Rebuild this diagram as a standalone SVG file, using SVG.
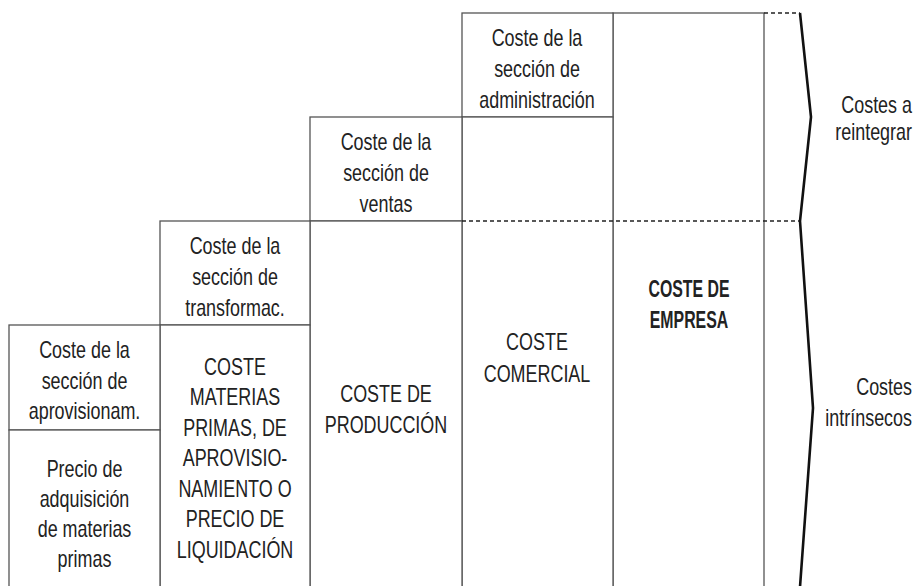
<svg xmlns="http://www.w3.org/2000/svg" width="918" height="586" viewBox="0 0 918 586">
<style>
.box{fill:#fff;stroke:#555;stroke-width:1.3}
.t{font-family:"Liberation Sans",Arial,sans-serif;font-size:23px;fill:#222;text-anchor:middle}
.b{font-weight:bold}
.r{text-anchor:end}
.dash{stroke:#222;stroke-width:1.3;stroke-dasharray:4 3;fill:none}
.brace{stroke:#111;stroke-width:2.6;fill:none;stroke-linejoin:miter}
</style>
<rect width="918" height="586" fill="#fff"/>
<g id="n-empresa"><rect class="box" x="613" y="13" width="151" height="575"/>
<text class="t b" transform="translate(689 0) scale(0.69 1)"><tspan x="0" y="297">COSTE DE</tspan><tspan x="0" y="328">EMPRESA</tspan></text></g>
<g id="n-admin"><rect class="box" x="462" y="13" width="151" height="104"/>
<text class="t" transform="translate(537 0) scale(0.78 1)"><tspan x="0" y="46">Coste de la</tspan><tspan x="0" y="77">sección de</tspan><tspan x="0" y="108">administración</tspan></text></g>
<g id="n-comercial"><rect class="box" x="462" y="117" width="151" height="471"/>
<text class="t" transform="translate(537 0) scale(0.78 1)"><tspan x="0" y="350">COSTE</tspan><tspan x="0" y="382">COMERCIAL</tspan></text></g>
<g id="n-ventas"><rect class="box" x="310" y="117" width="152" height="104"/>
<text class="t" transform="translate(386 0) scale(0.78 1)"><tspan x="0" y="150">Coste de la</tspan><tspan x="0" y="181">sección de</tspan><tspan x="0" y="212">ventas</tspan></text></g>
<g id="n-produccion"><rect class="box" x="310" y="221" width="152" height="367"/>
<text class="t" transform="translate(386 0) scale(0.78 1)"><tspan x="0" y="402">COSTE DE</tspan><tspan x="0" y="433">PRODUCCIÓN</tspan></text></g>
<g id="n-transf"><rect class="box" x="160" y="221" width="150" height="104"/>
<text class="t" transform="translate(235 0) scale(0.78 1)"><tspan x="0" y="254">Coste de la</tspan><tspan x="0" y="285">sección de</tspan><tspan x="0" y="316">transformac.</tspan></text></g>
<g id="n-materias"><rect class="box" x="160" y="325" width="150" height="263"/>
<text class="t" transform="translate(235 0) scale(0.78 1)"><tspan x="0" y="375">COSTE</tspan><tspan x="0" y="405.5">MATERIAS</tspan><tspan x="0" y="436">PRIMAS, DE</tspan><tspan x="0" y="466.5">APROVISIO-</tspan><tspan x="0" y="497">NAMIENTO O</tspan><tspan x="0" y="527.5">PRECIO DE</tspan><tspan x="0" y="558">LIQUIDACIÓN</tspan></text></g>
<g id="n-aprov"><rect class="box" x="9" y="325" width="151" height="105"/>
<text class="t" transform="translate(84.5 0) scale(0.78 1)"><tspan x="0" y="358">Coste de la</tspan><tspan x="0" y="389">sección de</tspan><tspan x="0" y="419">aprovisionam.</tspan></text></g>
<g id="n-precio"><rect class="box" x="9" y="430" width="151" height="158"/>
<text class="t" transform="translate(84.5 0) scale(0.78 1)"><tspan x="0" y="477">Precio de</tspan><tspan x="0" y="507">adquisición</tspan><tspan x="0" y="537">de materias</tspan><tspan x="0" y="567">primas</tspan></text></g>
<g id="connectors">
<path class="dash" d="M462,221 H800 M764,13 H800"/>
<path class="brace" d="M800,13 L811,117 L800,221 L813,408 L800,587"/>
</g>
<g id="n-reintegrar"><text class="t r" transform="translate(912 0) scale(0.78 1)"><tspan x="0" y="113">Costes a</tspan><tspan x="0" y="140">reintegrar</tspan></text></g>
<g id="n-intrinsecos"><text class="t r" transform="translate(912 0) scale(0.78 1)"><tspan x="0" y="395">Costes</tspan><tspan x="0" y="426">intrínsecos</tspan></text></g>
</svg>
